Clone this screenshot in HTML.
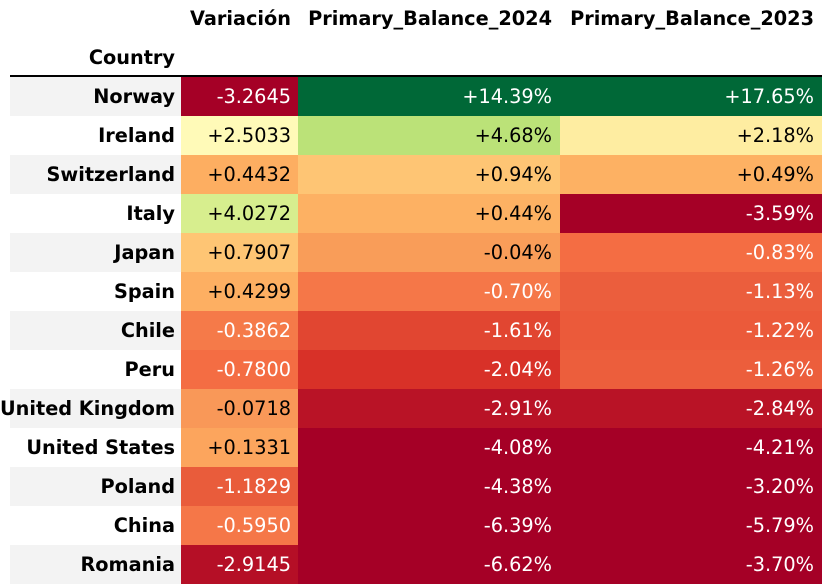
<!DOCTYPE html>
<html><head><meta charset="utf-8"><style>
body{margin:0;background:#fff;width:831px;height:583px;overflow:hidden;font-family:"DejaVu Sans","Liberation Sans",sans-serif;font-size:19.3px;position:relative}
.r{position:absolute;left:0;width:831px;height:39px;line-height:39px}
.c{position:absolute;top:0;height:39px;text-align:right;white-space:nowrap;box-sizing:border-box;padding-right:7px}
.i{left:0;width:181px;font-weight:bold;padding-right:6px}
.i.a{background:linear-gradient(90deg,#fff 10px,#f3f3f3 10px)}
.v{left:181px;width:117px}
.p{left:298px;width:262px;padding-right:8px}
.q{left:560px;width:262px;padding-right:8px}
.w{color:#fff}
.h{position:absolute;font-weight:bold;white-space:nowrap;line-height:38px;text-align:right}
</style></head><body>
<div class="h" style="top:0;left:181px;width:110px">Variación</div>
<div class="h" style="top:0;left:298px;width:254px">Primary_Balance_2024</div>
<div class="h" style="top:0;left:560px;width:254px">Primary_Balance_2023</div>
<div class="h" style="top:39px;left:0;width:175px">Country</div>
<div style="position:absolute;left:10px;top:75px;width:812px;height:2px;background:#000"></div>

<div class="r" style="top:77px"><div class="c i a">Norway</div><div class="c v w" style="background:#a50026">-3.2645</div><div class="c p w" style="background:#006837">+14.39%</div><div class="c q w" style="background:#006837">+17.65%</div></div>
<div class="r" style="top:116px"><div class="c i">Ireland</div><div class="c v" style="background:#fffab8">+2.5033</div><div class="c p" style="background:#bbe278">+4.68%</div><div class="c q" style="background:#feeda1">+2.18%</div></div>
<div class="r" style="top:155px"><div class="c i a">Switzerland</div><div class="c v" style="background:#fdae61">+0.4432</div><div class="c p" style="background:#fec574">+0.94%</div><div class="c q" style="background:#fdb163">+0.49%</div></div>
<div class="r" style="top:194px"><div class="c i">Italy</div><div class="c v" style="background:#d7ee8e">+4.0272</div><div class="c p" style="background:#fdb163">+0.44%</div><div class="c q w" style="background:#a50026">-3.59%</div></div>
<div class="r" style="top:233px"><div class="c i a">Japan</div><div class="c v" style="background:#fec574">+0.7907</div><div class="c p" style="background:#f99d59">-0.04%</div><div class="c q w" style="background:#f46d43">-0.83%</div></div>
<div class="r" style="top:272px"><div class="c i">Spain</div><div class="c v" style="background:#fdaf62">+0.4299</div><div class="c p w" style="background:#f57748">-0.70%</div><div class="c q w" style="background:#eb5e3d">-1.13%</div></div>
<div class="r" style="top:311px"><div class="c i a">Chile</div><div class="c v w" style="background:#f57a49">-0.3862</div><div class="c p w" style="background:#e14631">-1.61%</div><div class="c q w" style="background:#eb5a3a">-1.22%</div></div>
<div class="r" style="top:350px"><div class="c i">Peru</div><div class="c v w" style="background:#f46d43">-0.7800</div><div class="c p w" style="background:#d83128">-2.04%</div><div class="c q w" style="background:#ec5e3c">-1.26%</div></div>
<div class="r" style="top:389px"><div class="c i a">United Kingdom</div><div class="c v" style="background:#f99858">-0.0718</div><div class="c p w" style="background:#b91326">-2.91%</div><div class="c q w" style="background:#b91326">-2.84%</div></div>
<div class="r" style="top:428px"><div class="c i">United States</div><div class="c v" style="background:#fca55d">+0.1331</div><div class="c p w" style="background:#a50026">-4.08%</div><div class="c q w" style="background:#a50026">-4.21%</div></div>
<div class="r" style="top:467px"><div class="c i a">Poland</div><div class="c v w" style="background:#e95c3b">-1.1829</div><div class="c p w" style="background:#a50026">-4.38%</div><div class="c q w" style="background:#a50026">-3.20%</div></div>
<div class="r" style="top:506px"><div class="c i">China</div><div class="c v w" style="background:#f57748">-0.5950</div><div class="c p w" style="background:#a50026">-6.39%</div><div class="c q w" style="background:#a50026">-5.79%</div></div>
<div class="r" style="top:545px"><div class="c i a">Romania</div><div class="c v w" style="background:#b50f26">-2.9145</div><div class="c p w" style="background:#a50026">-6.62%</div><div class="c q w" style="background:#a50026">-3.70%</div></div>
</body></html>
